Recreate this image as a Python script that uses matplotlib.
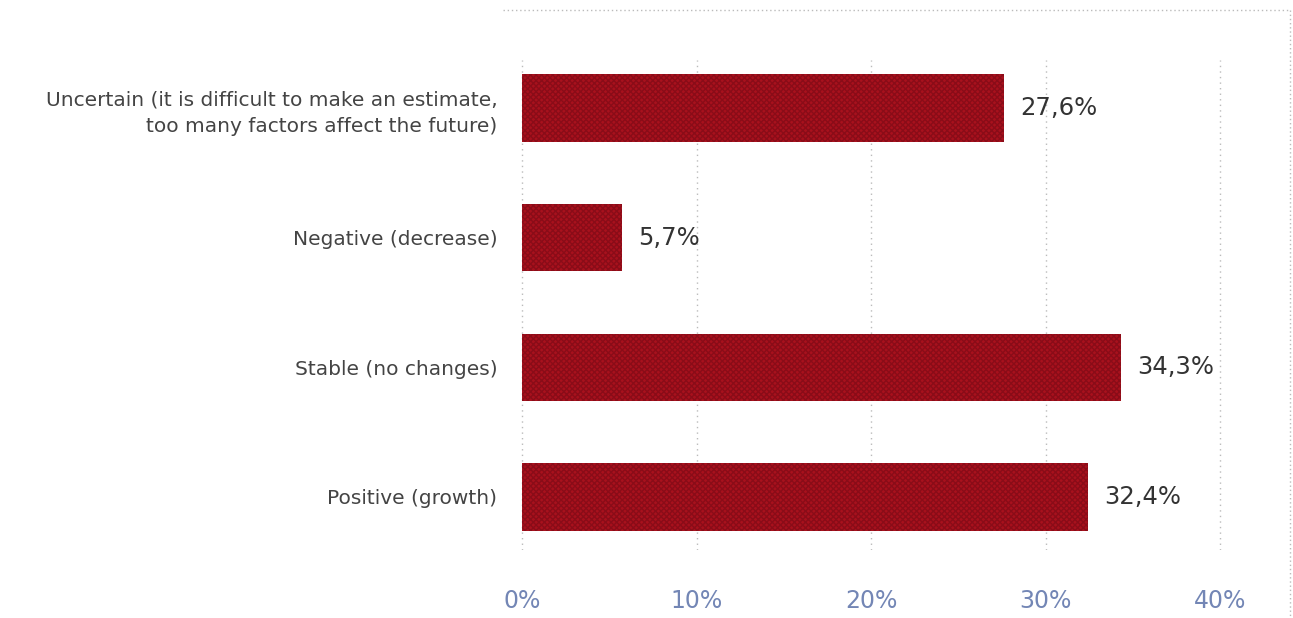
import matplotlib.pyplot as plt
from matplotlib.lines import Line2D

# Survey answers, bottom to top as drawn
categories = ['Positive (growth)', 'Stable (no changes)', 'Negative (decrease)',
              'Uncertain (it is difficult to make an estimate,\ntoo many factors affect the future)']
values = [32.4, 34.3, 5.7, 27.6]
ticks = [0, 10, 20, 30, 40]
tick_labels = ['0%', '10%', '20%', '30%', '40%']

plt.rcParams['font.family'] = ['DejaVu Sans']

fig = plt.figure(figsize=(12.93, 6.18), dpi=100)
W, H = 1293, 618
# axes area in pixel terms: x 503..1290, y 60..550
ax = fig.add_axes([503 / W, 1 - 550 / H, (1290 - 503) / W, (550 - 60) / H])

y = range(len(categories))
bars = ax.barh(y, values, height=0.52, color='#a8111d', hatch='xxxxxx', linewidth=0)
for b in bars:
    b.set_edgecolor('#8a0c18')

for yi, v in zip(y, values):
    ax.text(v + 0.95, yi, f'{v:.1f}%'.replace('.', ','), va='center', ha='left',
            fontsize=17.5, color='#333333')

ax.set_xlim(-1.09, 44.0)
ax.set_ylim(-0.41, 3.37)
ax.set_xticks(ticks)
ax.set_xticklabels(tick_labels, color='#7386b5', fontsize=17)
ax.set_yticks(list(y))
ax.set_yticklabels(categories, fontsize=14.5, color='#444444', linespacing=1.45)
ax.tick_params(axis='x', length=0, pad=28)
ax.tick_params(axis='y', length=0, pad=4)
ax.grid(axis='x', linestyle=(0, (1, 3)), color='#bbbbbb', linewidth=1)
ax.set_axisbelow(True)
for s in ax.spines.values():
    s.set_visible(False)

# dotted outer frame top and right
fig.add_artist(Line2D([503 / W, 1290 / W], [1 - 10 / H, 1 - 10 / H],
                      linestyle=(0, (1, 2)), color='#bbbbbb', linewidth=1))
fig.add_artist(Line2D([1290 / W, 1290 / W], [1 - 10 / H, 0],
                      linestyle=(0, (1, 2)), color='#bbbbbb', linewidth=1))

plt.savefig('out.png', dpi=100)
